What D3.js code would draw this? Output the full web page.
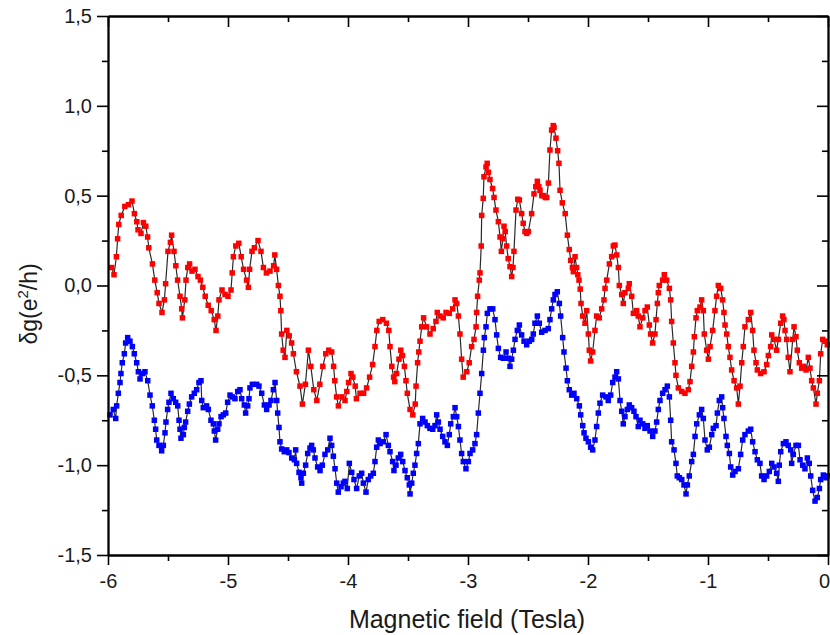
<!DOCTYPE html>
<html>
<head>
<meta charset="utf-8">
<script src="https://cdn.jsdelivr.net/npm/d3@7"></script>
<style>
  html, body { margin: 0; padding: 0; background: #fff; }
  svg { display: block; }
  text { font-family: "Liberation Sans", Arial, sans-serif; fill: #1a1a1a; }
</style>
</head>
<body>
<svg id="chart" width="830" height="635"></svg>
<script>
// ---- data (magnetic field in Tesla, δg in e²/h) ----
const xDomain = [-6, 0];
const yDomain = [-1.5, 1.5];
const xMajorTicks = [-6, -5, -4, -3, -2, -1, 0];
const xMinorTicks = [-5.5, -4.5, -3.5, -2.5, -1.5, -0.5];
const yMajorTicks = [-1.5, -1.0, -0.5, 0.0, 0.5, 1.0, 1.5];
const yMinorTicks = [-1.25, -0.75, -0.25, 0.25, 0.75, 1.25];
const xTitle = "Magnetic field (Tesla)";

const redSeries = [
[-5.97,0.10],[-5.95,0.06],[-5.93,0.16],[-5.92,0.26],[-5.91,0.34],[-5.89,0.39],[-5.86,0.44],[-5.83,0.45],[-5.80,0.47],[-5.78,0.40],[-5.76,0.355],[-5.75,0.31],[-5.725,0.29],[-5.705,0.35],[-5.685,0.33],[-5.67,0.27],[-5.66,0.21],[-5.63,0.12],[-5.61,0.03],[-5.59,-0.04],[-5.575,-0.10],[-5.55,-0.15],[-5.53,-0.08],[-5.52,0.01],[-5.50,0.19],[-5.48,0.24],[-5.47,0.28],[-5.45,0.19],[-5.435,0.11],[-5.42,0.03],[-5.40,-0.06],[-5.386,-0.13],[-5.38,-0.18],[-5.36,-0.08],[-5.35,0.03],[-5.335,0.10],[-5.32,0.12],[-5.30,0.08],[-5.275,0.09],[-5.25,0.05],[-5.23,0.03],[-5.21,-0.01],[-5.19,-0.06],[-5.165,-0.11],[-5.14,-0.14],[-5.115,-0.19],[-5.10,-0.25],[-5.085,-0.17],[-5.075,-0.08],[-5.05,-0.025],[-5.025,-0.05],[-5.0,-0.06],[-4.975,-0.025],[-4.965,0.07],[-4.955,0.16],[-4.935,0.22],[-4.91,0.235],[-4.89,0.16],[-4.87,0.09],[-4.845,0.03],[-4.83,-0.01],[-4.82,0.09],[-4.80,0.19],[-4.78,0.21],[-4.75,0.25],[-4.725,0.19],[-4.705,0.10],[-4.68,0.07],[-4.65,0.08],[-4.62,0.11],[-4.61,0.17],[-4.595,0.09],[-4.58,0.0],[-4.567,-0.06],[-4.56,-0.14],[-4.553,-0.27],[-4.54,-0.36],[-4.525,-0.40],[-4.51,-0.25],[-4.49,-0.28],[-4.47,-0.32],[-4.455,-0.38],[-4.43,-0.48],[-4.40,-0.56],[-4.38,-0.66],[-4.355,-0.55],[-4.33,-0.36],[-4.31,-0.45],[-4.285,-0.58],[-4.26,-0.64],[-4.235,-0.55],[-4.21,-0.45],[-4.185,-0.38],[-4.16,-0.36],[-4.136,-0.37],[-4.12,-0.45],[-4.11,-0.53],[-4.095,-0.62],[-4.08,-0.67],[-4.05,-0.62],[-4.025,-0.64],[-4.01,-0.59],[-3.995,-0.54],[-3.975,-0.49],[-3.96,-0.51],[-3.94,-0.56],[-3.93,-0.63],[-3.90,-0.60],[-3.87,-0.60],[-3.845,-0.57],[-3.82,-0.51],[-3.795,-0.44],[-3.775,-0.34],[-3.76,-0.25],[-3.74,-0.20],[-3.71,-0.19],[-3.68,-0.21],[-3.66,-0.25],[-3.65,-0.34],[-3.635,-0.45],[-3.62,-0.51],[-3.61,-0.535],[-3.595,-0.49],[-3.575,-0.41],[-3.56,-0.36],[-3.545,-0.39],[-3.53,-0.45],[-3.517,-0.53],[-3.506,-0.60],[-3.483,-0.69],[-3.46,-0.72],[-3.44,-0.66],[-3.433,-0.56],[-3.42,-0.43],[-3.41,-0.37],[-3.40,-0.31],[-3.386,-0.23],[-3.37,-0.18],[-3.345,-0.23],[-3.317,-0.27],[-3.29,-0.24],[-3.267,-0.20],[-3.256,-0.15],[-3.233,-0.17],[-3.206,-0.18],[-3.183,-0.15],[-3.156,-0.155],[-3.128,-0.13],[-3.108,-0.08],[-3.094,-0.10],[-3.08,-0.17],[-3.067,-0.27],[-3.053,-0.41],[-3.04,-0.51],[-3.01,-0.48],[-2.99,-0.43],[-2.97,-0.34],[-2.95,-0.30],[-2.933,-0.23],[-2.928,-0.15],[-2.92,-0.06],[-2.906,0.03],[-2.90,0.07],[-2.89,0.22],[-2.886,0.39],[-2.873,0.485],[-2.867,0.605],[-2.85,0.66],[-2.84,0.68],[-2.83,0.63],[-2.817,0.59],[-2.795,0.54],[-2.783,0.49],[-2.767,0.42],[-2.747,0.355],[-2.733,0.27],[-2.722,0.19],[-2.71,0.26],[-2.70,0.33],[-2.69,0.30],[-2.678,0.22],[-2.665,0.15],[-2.65,0.105],[-2.636,0.05],[-2.625,0.10],[-2.617,0.19],[-2.60,0.42],[-2.585,0.48],[-2.572,0.476],[-2.553,0.40],[-2.54,0.346],[-2.525,0.30],[-2.51,0.29],[-2.497,0.30],[-2.47,0.40],[-2.45,0.51],[-2.435,0.55],[-2.422,0.58],[-2.41,0.55],[-2.40,0.53],[-2.385,0.50],[-2.372,0.50],[-2.355,0.49],[-2.344,0.49],[-2.33,0.57],[-2.317,0.754],[-2.303,0.865],[-2.29,0.89],[-2.283,0.88],[-2.267,0.82],[-2.253,0.75],[-2.242,0.68],[-2.233,0.53],[-2.214,0.46],[-2.19,0.40],[-2.172,0.28],[-2.156,0.20],[-2.144,0.14],[-2.13,0.10],[-2.122,0.077],[-2.108,0.16],[-2.095,0.10],[-2.085,0.06],[-2.075,0.03],[-2.065,-0.02],[-2.058,-0.10],[-2.044,-0.17],[-2.025,-0.21],[-2.011,-0.14],[-1.997,-0.27],[-1.989,-0.36],[-1.978,-0.42],[-1.961,-0.37],[-1.942,-0.25],[-1.928,-0.17],[-1.906,-0.18],[-1.886,-0.13],[-1.867,-0.08],[-1.858,-0.016],[-1.844,0.03],[-1.822,0.12],[-1.803,0.16],[-1.789,0.22],[-1.775,0.225],[-1.761,0.17],[-1.747,0.10],[-1.739,0.0],[-1.719,-0.05],[-1.706,-0.10],[-1.692,-0.04],[-1.664,-0.016],[-1.656,0.01],[-1.636,-0.06],[-1.622,-0.155],[-1.594,-0.14],[-1.581,-0.17],[-1.567,-0.23],[-1.544,-0.18],[-1.525,-0.14],[-1.506,-0.12],[-1.489,-0.22],[-1.478,-0.27],[-1.461,-0.32],[-1.442,-0.27],[-1.433,-0.19],[-1.422,-0.10],[-1.414,-0.04],[-1.406,0.0],[-1.378,0.03],[-1.364,0.06],[-1.344,0.03],[-1.322,-0.016],[-1.311,-0.08],[-1.303,-0.20],[-1.289,-0.32],[-1.275,-0.43],[-1.267,-0.50],[-1.247,-0.57],[-1.219,-0.59],[-1.192,-0.60],[-1.164,-0.58],[-1.15,-0.535],[-1.136,-0.45],[-1.122,-0.37],[-1.114,-0.285],[-1.10,-0.18],[-1.089,-0.14],[-1.067,-0.12],[-1.053,-0.08],[-1.039,-0.14],[-1.031,-0.27],[-1.011,-0.36],[-0.997,-0.41],[-0.983,-0.34],[-0.961,-0.25],[-0.942,-0.14],[-0.928,-0.06],[-0.914,0.0],[-0.894,-0.016],[-0.878,-0.08],[-0.867,-0.15],[-0.858,-0.22],[-0.844,-0.27],[-0.831,-0.34],[-0.817,-0.40],[-0.803,-0.47],[-0.783,-0.53],[-0.761,-0.57],[-0.747,-0.66],[-0.733,-0.56],[-0.719,-0.43],[-0.706,-0.34],[-0.692,-0.23],[-0.664,-0.19],[-0.644,-0.15],[-0.628,-0.25],[-0.617,-0.36],[-0.60,-0.43],[-0.589,-0.47],[-0.561,-0.49],[-0.533,-0.48],[-0.511,-0.44],[-0.497,-0.39],[-0.478,-0.34],[-0.469,-0.275],[-0.45,-0.30],[-0.428,-0.36],[-0.414,-0.30],[-0.394,-0.21],[-0.378,-0.17],[-0.367,-0.19],[-0.358,-0.25],[-0.344,-0.30],[-0.331,-0.40],[-0.317,-0.48],[-0.294,-0.30],[-0.283,-0.23],[-0.267,-0.285],[-0.256,-0.36],[-0.239,-0.43],[-0.219,-0.46],[-0.206,-0.45],[-0.183,-0.47],[-0.164,-0.40],[-0.15,-0.46],[-0.136,-0.53],[-0.122,-0.57],[-0.10,-0.66],[-0.089,-0.60],[-0.072,-0.53],[-0.061,-0.38],[-0.044,-0.30],[-0.025,-0.31],[-0.006,-0.33]
];

const blueSeries = [
[-5.983,-0.72],[-5.956,-0.69],[-5.936,-0.74],[-5.928,-0.67],[-5.914,-0.60],[-5.90,-0.54],[-5.892,-0.49],[-5.881,-0.43],[-5.864,-0.38],[-5.853,-0.32],[-5.836,-0.29],[-5.817,-0.31],[-5.797,-0.34],[-5.781,-0.38],[-5.761,-0.43],[-5.747,-0.48],[-5.733,-0.52],[-5.714,-0.49],[-5.692,-0.48],[-5.669,-0.53],[-5.65,-0.61],[-5.631,-0.67],[-5.614,-0.75],[-5.603,-0.80],[-5.594,-0.86],[-5.575,-0.89],[-5.553,-0.92],[-5.539,-0.89],[-5.525,-0.82],[-5.517,-0.76],[-5.503,-0.69],[-5.492,-0.65],[-5.475,-0.60],[-5.456,-0.63],[-5.436,-0.65],[-5.419,-0.67],[-5.408,-0.75],[-5.40,-0.80],[-5.392,-0.85],[-5.372,-0.83],[-5.364,-0.79],[-5.353,-0.76],[-5.336,-0.70],[-5.322,-0.66],[-5.303,-0.62],[-5.281,-0.60],[-5.261,-0.58],[-5.242,-0.54],[-5.225,-0.53],[-5.219,-0.64],[-5.206,-0.68],[-5.178,-0.67],[-5.164,-0.69],[-5.142,-0.75],[-5.122,-0.77],[-5.114,-0.81],[-5.103,-0.86],[-5.086,-0.80],[-5.075,-0.77],[-5.058,-0.73],[-5.039,-0.72],[-5.019,-0.71],[-5.003,-0.65],[-4.983,-0.61],[-4.964,-0.62],[-4.942,-0.63],[-4.919,-0.59],[-4.90,-0.58],[-4.886,-0.63],[-4.864,-0.665],[-4.853,-0.71],[-4.836,-0.67],[-4.825,-0.63],[-4.817,-0.57],[-4.797,-0.55],[-4.761,-0.55],[-4.742,-0.56],[-4.719,-0.60],[-4.697,-0.665],[-4.678,-0.69],[-4.658,-0.665],[-4.642,-0.64],[-4.622,-0.58],[-4.608,-0.54],[-4.594,-0.64],[-4.586,-0.71],[-4.575,-0.79],[-4.567,-0.87],[-4.553,-0.91],[-4.531,-0.925],[-4.511,-0.915],[-4.492,-0.93],[-4.469,-0.96],[-4.447,-0.97],[-4.436,-0.915],[-4.428,-0.99],[-4.408,-1.04],[-4.392,-1.07],[-4.386,-1.10],[-4.372,-1.045],[-4.353,-1.0],[-4.336,-0.935],[-4.317,-0.905],[-4.303,-0.89],[-4.289,-0.915],[-4.275,-0.96],[-4.253,-1.01],[-4.233,-1.03],[-4.214,-1.0],[-4.192,-0.94],[-4.169,-0.915],[-4.15,-0.85],[-4.136,-0.89],[-4.122,-0.95],[-4.108,-1.02],[-4.094,-1.10],[-4.081,-1.15],[-4.058,-1.12],[-4.039,-1.10],[-4.025,-1.09],[-4.006,-1.13],[-3.989,-0.99],[-3.969,-1.04],[-3.95,-1.08],[-3.928,-1.13],[-3.906,-1.06],[-3.886,-1.045],[-3.872,-1.10],[-3.85,-1.15],[-3.831,-1.08],[-3.811,-1.06],[-3.789,-1.045],[-3.775,-0.98],[-3.761,-0.90],[-3.747,-0.86],[-3.733,-0.88],[-3.706,-0.87],[-3.683,-0.83],[-3.664,-0.89],[-3.65,-0.925],[-3.628,-0.98],[-3.617,-1.03],[-3.60,-1.0],[-3.581,-0.96],[-3.561,-0.94],[-3.544,-0.98],[-3.525,-1.03],[-3.506,-1.07],[-3.489,-1.11],[-3.483,-1.16],[-3.469,-1.10],[-3.456,-1.045],[-3.442,-1.0],[-3.428,-0.935],[-3.414,-0.88],[-3.40,-0.77],[-3.378,-0.74],[-3.358,-0.76],[-3.339,-0.78],[-3.317,-0.795],[-3.294,-0.80],[-3.275,-0.78],[-3.261,-0.72],[-3.247,-0.76],[-3.233,-0.80],[-3.211,-0.84],[-3.192,-0.87],[-3.172,-0.89],[-3.156,-0.83],[-3.144,-0.77],[-3.122,-0.73],[-3.108,-0.68],[-3.094,-0.73],[-3.08,-0.785],[-3.067,-0.86],[-3.053,-0.935],[-3.039,-0.98],[-3.017,-1.02],[-2.997,-0.98],[-2.983,-0.935],[-2.961,-0.915],[-2.942,-0.88],[-2.928,-0.83],[-2.914,-0.71],[-2.90,-0.60],[-2.886,-0.49],[-2.872,-0.36],[-2.864,-0.29],[-2.85,-0.23],[-2.839,-0.155],[-2.817,-0.13],[-2.794,-0.13],[-2.775,-0.19],[-2.761,-0.275],[-2.747,-0.35],[-2.728,-0.40],[-2.706,-0.405],[-2.683,-0.37],[-2.664,-0.405],[-2.65,-0.45],[-2.636,-0.41],[-2.622,-0.36],[-2.608,-0.30],[-2.589,-0.25],[-2.572,-0.22],[-2.553,-0.275],[-2.533,-0.31],[-2.511,-0.33],[-2.489,-0.31],[-2.469,-0.30],[-2.456,-0.27],[-2.442,-0.21],[-2.422,-0.17],[-2.406,-0.21],[-2.386,-0.26],[-2.358,-0.25],[-2.331,-0.24],[-2.317,-0.19],[-2.303,-0.13],[-2.289,-0.08],[-2.275,-0.05],[-2.256,-0.035],[-2.239,-0.10],[-2.228,-0.17],[-2.211,-0.29],[-2.20,-0.37],[-2.183,-0.46],[-2.172,-0.53],[-2.156,-0.58],[-2.136,-0.61],[-2.117,-0.60],[-2.094,-0.63],[-2.072,-0.67],[-2.061,-0.72],[-2.044,-0.78],[-2.033,-0.82],[-2.017,-0.85],[-1.997,-0.87],[-1.978,-0.90],[-1.961,-0.915],[-1.942,-0.86],[-1.928,-0.785],[-1.914,-0.71],[-1.90,-0.655],[-1.878,-0.61],[-1.85,-0.62],[-1.831,-0.64],[-1.811,-0.61],[-1.794,-0.54],[-1.775,-0.51],[-1.761,-0.48],[-1.747,-0.52],[-1.733,-0.64],[-1.719,-0.70],[-1.706,-0.77],[-1.692,-0.73],[-1.672,-0.69],[-1.656,-0.665],[-1.636,-0.68],[-1.617,-0.70],[-1.60,-0.73],[-1.581,-0.785],[-1.567,-0.75],[-1.544,-0.77],[-1.525,-0.795],[-1.506,-0.78],[-1.483,-0.81],[-1.461,-0.84],[-1.442,-0.81],[-1.428,-0.76],[-1.414,-0.69],[-1.40,-0.64],[-1.378,-0.60],[-1.358,-0.58],[-1.339,-0.56],[-1.322,-0.62],[-1.311,-0.75],[-1.303,-0.87],[-1.283,-0.915],[-1.267,-0.99],[-1.256,-1.06],[-1.239,-1.07],[-1.219,-1.08],[-1.20,-1.11],[-1.183,-1.16],[-1.172,-1.11],[-1.156,-1.06],[-1.136,-0.98],[-1.122,-0.94],[-1.108,-0.84],[-1.094,-0.77],[-1.072,-0.72],[-1.053,-0.69],[-1.039,-0.74],[-1.025,-0.86],[-1.006,-0.915],[-0.989,-0.90],[-0.969,-0.83],[-0.956,-0.795],[-0.933,-0.78],[-0.922,-0.71],[-0.906,-0.64],[-0.886,-0.62],[-0.878,-0.68],[-0.867,-0.74],[-0.85,-0.84],[-0.839,-0.89],[-0.822,-0.935],[-0.811,-1.01],[-0.794,-1.055],[-0.775,-1.035],[-0.747,-1.02],[-0.728,-0.94],[-0.711,-0.86],[-0.692,-0.83],[-0.664,-0.81],[-0.644,-0.80],[-0.628,-0.87],[-0.608,-0.925],[-0.589,-0.97],[-0.567,-0.99],[-0.553,-1.06],[-0.533,-1.08],[-0.511,-1.06],[-0.489,-1.035],[-0.469,-0.99],[-0.45,-1.01],[-0.428,-1.045],[-0.414,-1.09],[-0.406,-1.0],[-0.394,-0.925],[-0.372,-0.88],[-0.35,-0.87],[-0.331,-0.89],[-0.311,-0.915],[-0.303,-0.99],[-0.289,-0.94],[-0.267,-0.89],[-0.247,-0.89],[-0.233,-0.97],[-0.211,-1.0],[-0.192,-1.02],[-0.172,-0.96],[-0.156,-0.99],[-0.144,-1.06],[-0.128,-1.14],[-0.108,-1.20],[-0.089,-1.18],[-0.072,-1.13],[-0.061,-1.08],[-0.039,-1.055],[-0.017,-1.07],[0.0,-1.06]
];

const seriesList = [
  { data: redSeries, color: "#ff0000" },
  { data: blueSeries, color: "#0000ff" }
];

// ---- layout ----
const W = 830, H = 635;
const plot = { left: 108, right: 828, top: 16, bottom: 555 };

const svg = d3.select("#chart");
const x = d3.scaleLinear().domain(xDomain).range([plot.left, plot.right]);
const y = d3.scaleLinear().domain(yDomain).range([plot.bottom, plot.top]);

const locale = d3.formatLocale({ decimal: ",", thousands: ".", grouping: [3], currency: ["", ""], minus: "-" });
const fy = locale.format(".1f");
const fx = locale.format("d");

// ---- series ----
const line = d3.line().x(d => x(d[0])).y(d => y(d[1]));
const ms = 5.5;
seriesList.forEach(s => {
  svg.append("path")
    .datum(s.data)
    .attr("fill", "none")
    .attr("stroke", "#2a2a2a")
    .attr("stroke-width", 1.2)
    .attr("d", line);
  svg.append("g").selectAll("rect")
    .data(s.data)
    .join("rect")
    .attr("x", d => x(d[0]) - ms / 2)
    .attr("y", d => y(d[1]) - ms / 2)
    .attr("width", ms)
    .attr("height", ms)
    .attr("fill", s.color);
});

// ---- axes ----
function styleAxis(g) {
  g.selectAll("path.domain").attr("stroke", "#000").attr("stroke-width", 1.8);
  g.selectAll(".tick line").attr("stroke", "#000").attr("stroke-width", 1.6);
  g.selectAll(".tick text").style("font-family", '"Liberation Sans", Arial, sans-serif')
    .style("font-size", "20px").attr("fill", "#1a1a1a");
}

// bottom
svg.append("g").attr("transform", `translate(0,${plot.bottom})`)
  .call(d3.axisBottom(x).tickValues(xMinorTicks).tickSize(6).tickFormat("").tickSizeOuter(0))
  .call(styleAxis);
const xAxisG = svg.append("g").attr("transform", `translate(0,${plot.bottom})`)
  .call(d3.axisBottom(x).tickValues(xMajorTicks).tickSize(10).tickPadding(9).tickFormat(fx).tickSizeOuter(0))
  .call(styleAxis);
// keep the last label ("0") inside the window edge
xAxisG.selectAll(".tick text").filter(d => d === 0).attr("dx", -4);
// left
svg.append("g").attr("transform", `translate(${plot.left},0)`)
  .call(d3.axisLeft(y).tickValues(yMinorTicks).tickSize(6).tickFormat("").tickSizeOuter(0))
  .call(styleAxis);
svg.append("g").attr("transform", `translate(${plot.left},0)`)
  .call(d3.axisLeft(y).tickValues(yMajorTicks).tickSize(11).tickPadding(5).tickFormat(fy).tickSizeOuter(0))
  .call(styleAxis);
// top (ticks inward)
svg.append("g").attr("transform", `translate(0,${plot.top})`)
  .call(d3.axisBottom(x).tickValues(xMinorTicks).tickSize(6).tickFormat("").tickSizeOuter(0))
  .call(styleAxis);
svg.append("g").attr("transform", `translate(0,${plot.top})`)
  .call(d3.axisBottom(x).tickValues(xMajorTicks).tickSize(11).tickFormat("").tickSizeOuter(0))
  .call(styleAxis);
// right (ticks inward)
svg.append("g").attr("transform", `translate(${plot.right},0)`)
  .call(d3.axisLeft(y).tickValues(yMinorTicks).tickSize(6).tickFormat("").tickSizeOuter(0))
  .call(styleAxis);
svg.append("g").attr("transform", `translate(${plot.right},0)`)
  .call(d3.axisLeft(y).tickValues(yMajorTicks).tickSize(11).tickFormat("").tickSizeOuter(0))
  .call(styleAxis);

// ---- titles ----
svg.append("text")
  .attr("x", 467)
  .attr("y", 628)
  .attr("text-anchor", "middle")
  .style("font-size", "25px")
  .text(xTitle);

const yt = svg.append("text")
  .attr("transform", `translate(37,304) rotate(-90)`)
  .attr("text-anchor", "middle")
  .style("font-size", "23px");
yt.append("tspan").text("δg(e");
yt.append("tspan").attr("dy", -9).style("font-size", "15px").text("2");
yt.append("tspan").attr("dy", 9).text("/h)");
</script>
</body>
</html>
